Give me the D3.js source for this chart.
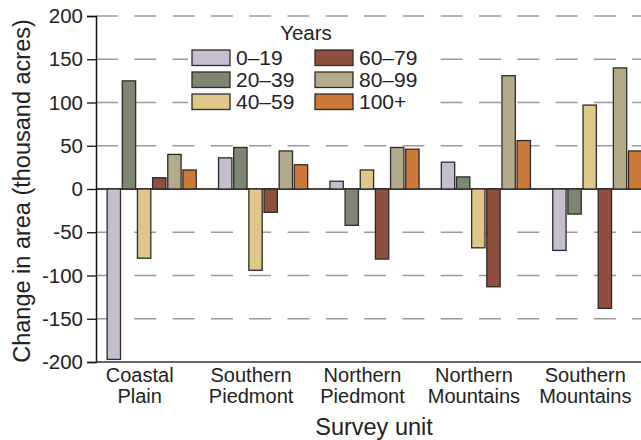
<!DOCTYPE html>
<html>
<head>
<meta charset="utf-8">
<script src="https://cdn.jsdelivr.net/npm/d3@7"></script>
<style>
  html, body { margin: 0; padding: 0; background: #fff; }
  svg { display: block; font-family: "Liberation Sans", Arial, Helvetica, sans-serif; }
</style>
</head>
<body>
<svg id="chart" width="641" height="440"></svg>
<script>
// Survey units (two-line labels) and stand-age classes
const units = ["Coastal Plain", "Southern Piedmont", "Northern Piedmont", "Northern Mountains", "Southern Mountains"];
const unitLines = [["Coastal", "Plain"], ["Southern", "Piedmont"], ["Northern", "Piedmont"], ["Northern", "Mountains"], ["Southern", "Mountains"]];
const ageClasses = ["0–19", "20–39", "40–59", "60–79", "80–99", "100+"];

// Change in area (thousand acres) by age class, one array per class, ordered as units
const age0to19   = [-197,  36,   9,   31,  -71];
const age20to39  = [ 125,  48, -42,   14,  -29];
const age40to59  = [ -80, -94,  22,  -68,   97];
const age60to79  = [  13, -27, -81, -113, -138];
const age80to99  = [  40,  44,  48,  131,  140];
const age100plus = [  22,  28,  46,   56,   44];
const seriesValues = [age0to19, age20to39, age40to59, age60to79, age80to99, age100plus];

const yTicks = [-200, -150, -100, -50, 0, 50, 100, 150, 200];
const classColors = ["#c6bdcf", "#7e8671", "#e0c689", "#8f4f3f", "#b3aa8b", "#cc7838"];

const svg = d3.select("#chart");
const W = 641;
const plotLeft = 96, plotTop = 16, plotBottom = 362, plotRight = 653;

const x = d3.scaleBand().domain(units).range([plotLeft, plotRight]).paddingInner(0.2).paddingOuter(0.1);
const xs = d3.scaleBand().domain(ageClasses).range([0, x.bandwidth()]).paddingInner(0.12);
const y = d3.scaleLinear().domain([-200, 200]).range([plotBottom, plotTop]);
const color = d3.scaleOrdinal().domain(ageClasses).range(classColors);

// Dashed gridlines
svg.append("g")
  .selectAll("line")
  .data(yTicks.filter(t => t !== 0 && t !== -200))
  .join("line")
  .attr("x1", plotLeft).attr("x2", W)
  .attr("y1", d => y(d)).attr("y2", d => y(d))
  .attr("stroke", "#9a9a9a").attr("stroke-width", 1.5)
  .attr("stroke-dasharray", "22,16.3");

// Legend box backing (hides gridlines underneath)
const legend = svg.append("g").attr("transform", "translate(192,50)");
legend.append("rect")
  .attr("x", -4).attr("y", -30).attr("width", 244).attr("height", 92)
  .attr("fill", "#fff");

// Zero reference line
svg.append("line")
  .attr("x1", plotLeft).attr("x2", W)
  .attr("y1", y(0)).attr("y2", y(0))
  .attr("stroke", "#444").attr("stroke-width", 1.8);

// Bars
const rows = [];
units.forEach((u, i) => ageClasses.forEach((a, j) => rows.push({ unit: u, cls: a, value: seriesValues[j][i] })));

svg.append("g")
  .selectAll("rect")
  .data(rows)
  .join("rect")
  .attr("x", d => x(d.unit) + xs(d.cls))
  .attr("width", xs.bandwidth())
  .attr("y", d => Math.min(y(d.value), y(0)))
  .attr("height", d => Math.abs(y(d.value) - y(0)))
  .attr("fill", d => color(d.cls))
  .attr("stroke", "#2e2a28").attr("stroke-width", 1.3);

// Y axis (hyphen-minus for negative labels)
const yAxis = svg.append("g")
  .attr("transform", `translate(${plotLeft},0)`)
  .call(d3.axisLeft(y).tickValues(yTicks).tickSize(9).tickPadding(4).tickFormat(d => String(d)));
yAxis.select(".domain").attr("stroke", "#111").attr("stroke-width", 1.5);
yAxis.selectAll(".tick line").attr("stroke", "#111").attr("stroke-width", 1.3);
yAxis.selectAll(".tick text")
  .attr("font-size", 20.5).attr("fill", "#222")
  .attr("font-family", "'Liberation Sans', Arial, sans-serif");

// X axis baseline
svg.append("line")
  .attr("x1", plotLeft).attr("x2", W)
  .attr("y1", plotBottom).attr("y2", plotBottom)
  .attr("stroke", "#333").attr("stroke-width", 1.5);

// Category labels, one text per line
const labelShift = 12;
const labelRows = [];
units.forEach((u, i) => unitLines[i].forEach((line, k) => labelRows.push({ unit: u, line, k })));
svg.append("g")
  .selectAll("text")
  .data(labelRows)
  .join("text")
  .attr("x", d => x(d.unit) + x.bandwidth() / 2 - labelShift)
  .attr("y", d => 382 + d.k * 20.5)
  .attr("text-anchor", "middle")
  .attr("font-size", 20)
  .attr("fill", "#222")
  .text(d => d.line);

// Axis titles
svg.append("text")
  .attr("x", 374).attr("y", 435)
  .attr("text-anchor", "middle")
  .attr("font-size", 23.5).attr("fill", "#222")
  .text("Survey unit");

svg.append("text")
  .attr("transform", "translate(30,191) rotate(-90)")
  .attr("text-anchor", "middle")
  .attr("font-size", 23.5).attr("fill", "#222")
  .text("Change in area (thousand acres)");

// Legend
legend.append("text")
  .attr("x", 114).attr("y", -10)
  .attr("text-anchor", "middle")
  .attr("font-size", 20.5).attr("fill", "#222")
  .text("Years");

const items = legend.selectAll("g.item")
  .data(ageClasses)
  .join("g")
  .attr("class", "item")
  .attr("transform", (d, i) => `translate(${Math.floor(i / 3) * 123},${(i % 3) * 22})`);
items.append("rect")
  .attr("width", 38).attr("height", 15.5)
  .attr("fill", d => color(d))
  .attr("stroke", "#2e2a28").attr("stroke-width", 1.3);
items.append("text")
  .attr("x", 44).attr("y", 15.3)
  .attr("font-size", 21).attr("fill", "#222")
  .text(d => d);
</script>
</body>
</html>
